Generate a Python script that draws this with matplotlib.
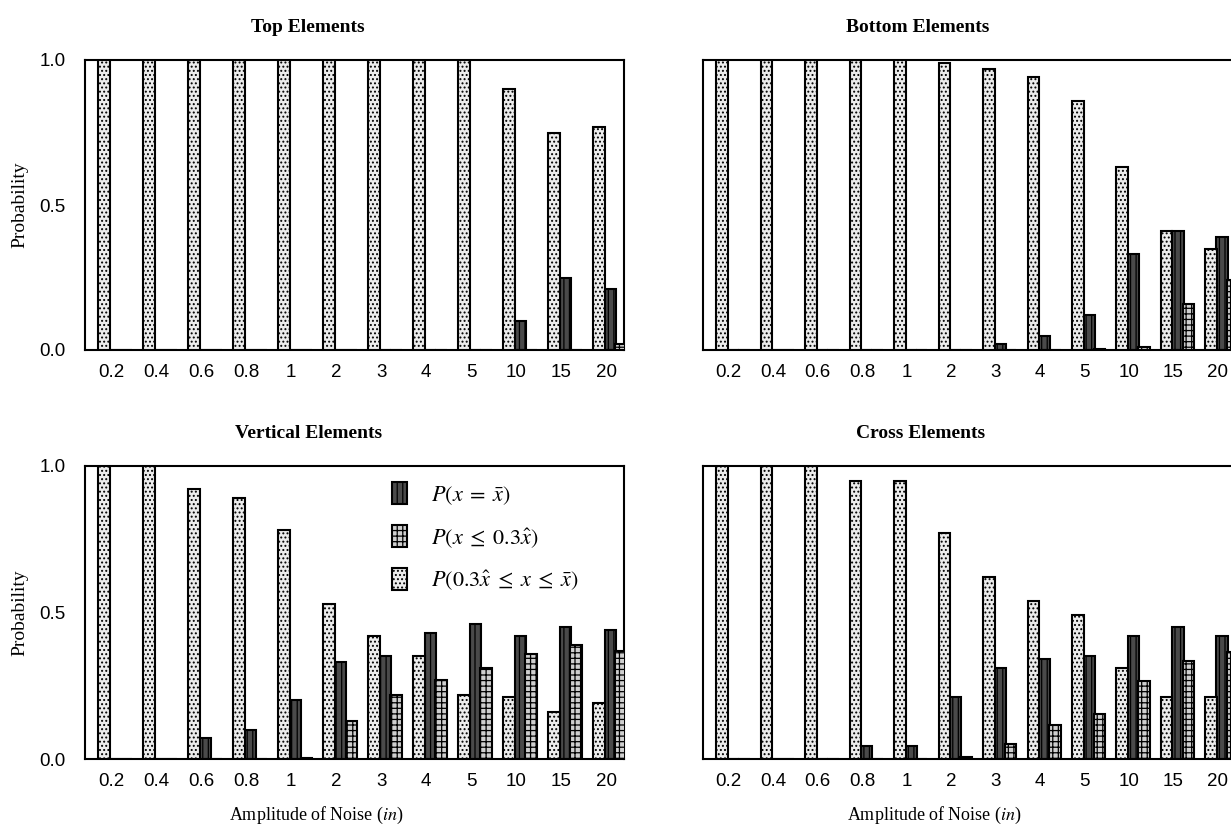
"""Probability of recovering each element class against noise amplitude"""

import matplotlib.pyplot as plt
import numpy as np

plt.rcParams["font.family"] = ["Liberation Sans", "DejaVu Sans"]
plt.rcParams["mathtext.fontset"] = "stix"
plt.rcParams["hatch.linewidth"] = 0.9

SERIF = ["Liberation Serif", "DejaVu Serif"]

NOISE_LABELS = ["0.2", "0.4", "0.6", "0.8", "1", "2", "3", "4", "5", "10", "15", "20"]

# P(0.3x^ <= x <= x-bar), P(x = x-bar), P(x <= 0.3x^) for each panel
TOP_MID = [1, 1, 1, 1, 1, 1, 1, 1, 1, 0.90, 0.75, 0.77]
TOP_EXACT = [0, 0, 0, 0, 0, 0, 0, 0, 0, 0.10, 0.25, 0.21]
TOP_LOW = [0, 0, 0, 0, 0, 0, 0, 0, 0, 0, 0, 0.02]

BOTTOM_MID = [1, 1, 1, 1, 1, 0.99, 0.97, 0.94, 0.86, 0.63, 0.41, 0.35]
BOTTOM_EXACT = [0, 0, 0, 0, 0, 0, 0.02, 0.05, 0.12, 0.33, 0.41, 0.39]
BOTTOM_LOW = [0, 0, 0, 0, 0, 0, 0, 0, 0.005, 0.01, 0.16, 0.24]

VERTICAL_MID = [1, 1, 0.92, 0.89, 0.78, 0.53, 0.42, 0.35, 0.22, 0.21, 0.16, 0.19]
VERTICAL_EXACT = [0, 0, 0.07, 0.10, 0.20, 0.33, 0.35, 0.43, 0.46, 0.42, 0.45, 0.44]
VERTICAL_LOW = [0, 0, 0, 0, 0.005, 0.13, 0.22, 0.27, 0.31, 0.36, 0.39, 0.37]

CROSS_MID = [1, 1, 1, 0.95, 0.95, 0.77, 0.62, 0.54, 0.49, 0.31, 0.21, 0.21]
CROSS_EXACT = [0, 0, 0, 0.045, 0.045, 0.21, 0.31, 0.34, 0.35, 0.42, 0.45, 0.42]
CROSS_LOW = [0, 0, 0, 0, 0, 0.007, 0.05, 0.115, 0.155, 0.265, 0.335, 0.365]

LABEL_EXACT = r"$P(x\;=\;\bar{x})$"
LABEL_LOW = r"$P(x\;\leq\;0.3\hat{x})$"
LABEL_MID = r"$P(0.3\hat{x}\;\leq\;x\;\leq\;\bar{x})$"

STYLE_MID = dict(facecolor="#ececec", hatch="....", edgecolor="black", linewidth=1.5)
STYLE_EXACT = dict(facecolor="#4a4a4a", hatch="|||", edgecolor="black", linewidth=1.5)
STYLE_LOW = dict(facecolor="#cfcfcf", hatch="+++", edgecolor="black", linewidth=1.5)

BAR_W = 0.26
FIG_W, FIG_H = 1231, 831


def px_axes(fig, left, top, right, bottom):
    """Add axes given pixel edges"""
    return fig.add_axes([left / FIG_W, 1 - bottom / FIG_H,
                         (right - left) / FIG_W, (bottom - top) / FIG_H])


def plot_panel(ax, title, mid, exact, low, title_x, xlim, show_y=True, xlabel=False):
    """Draw one grouped bar panel"""
    x = np.arange(len(NOISE_LABELS))
    ax.bar(x + 0.1, exact, BAR_W, label=LABEL_EXACT, zorder=2, **STYLE_EXACT)
    ax.bar(x + 0.34, low, BAR_W, label=LABEL_LOW, zorder=3, **STYLE_LOW)
    ax.bar(x - 0.15, mid, BAR_W, label=LABEL_MID, zorder=3, **STYLE_MID)

    ax.set_xlim(*xlim)
    ax.set_ylim(0, 1.0)
    ax.set_xticks(x, NOISE_LABELS)
    ax.set_yticks([0, 0.5, 1.0], ["0.0", "0.5", "1.0"])
    ax.tick_params(length=0, labelsize=13.5, pad=10)
    ax.tick_params(axis="y", pad=14)
    if not show_y:
        ax.set_yticklabels([])
    else:
        ax.set_ylabel("Probability", family=SERIF, fontsize=14, labelpad=8)
    for s in ax.spines.values():
        s.set_linewidth(1.5)
    ax.set_title(title, family=SERIF, fontweight="bold", fontsize=14,
                 x=title_x, pad=20)
    if xlabel:
        ax.set_xlabel(r"Amplitude of Noise ($\mathit{in}$)", family=SERIF,
                      fontsize=13, labelpad=11, x=0.43)


fig = plt.figure(figsize=(FIG_W / 100, FIG_H / 100), dpi=100)

ax_top = px_axes(fig, 85, 60, 624, 350)
ax_bottom = px_axes(fig, 703, 60, 1240, 350)
ax_vert = px_axes(fig, 85, 466, 624, 759)
ax_cross = px_axes(fig, 703, 466, 1240, 759)

LEFT_XLIM = (-0.58, 11.4)
RIGHT_XLIM = (-0.58, 11.5)

plot_panel(ax_top, "Top Elements", TOP_MID, TOP_EXACT, TOP_LOW, 0.414, LEFT_XLIM)
plot_panel(ax_bottom, "Bottom Elements", BOTTOM_MID, BOTTOM_EXACT, BOTTOM_LOW,
           0.40, RIGHT_XLIM, show_y=False)
plot_panel(ax_vert, "Vertical Elements", VERTICAL_MID, VERTICAL_EXACT, VERTICAL_LOW,
           0.414, LEFT_XLIM, xlabel=True)
plot_panel(ax_cross, "Cross Elements", CROSS_MID, CROSS_EXACT, CROSS_LOW,
           0.405, RIGHT_XLIM, show_y=False, xlabel=True)

ax_vert.legend(loc="upper left", bbox_to_anchor=(0.533, 1.012), frameon=False,
               fontsize=16, handlelength=0.65, handleheight=1.1,
               labelspacing=0.85, handletextpad=1.1)

fig.savefig("out.png", dpi=100)
